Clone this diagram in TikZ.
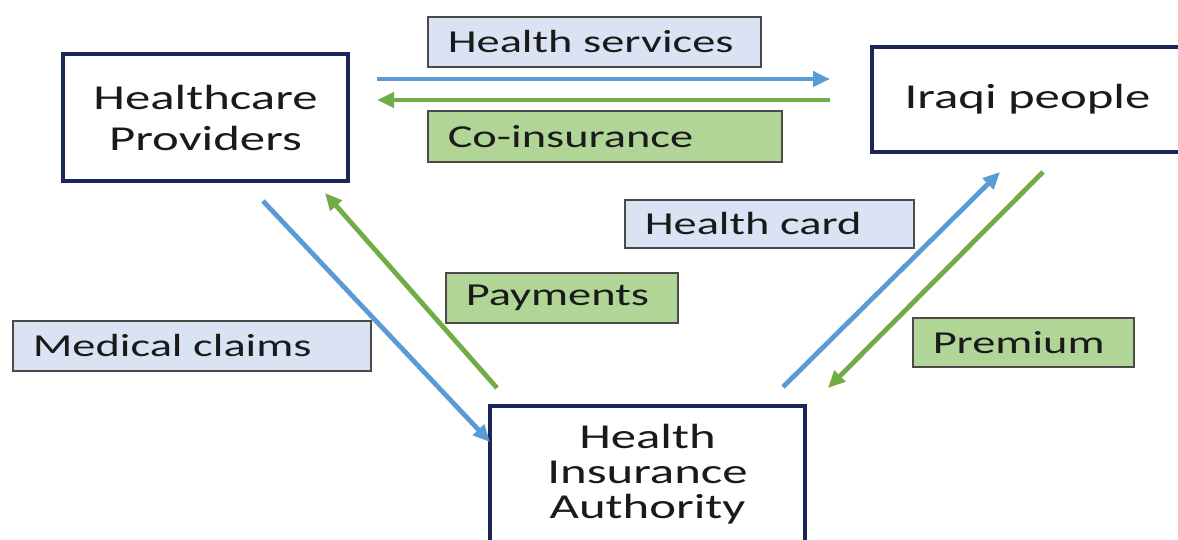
\documentclass[tikz,border=0pt]{standalone}
\usepackage{fontspec}
\setmainfont{Carlito}[FakeStretch=1.45]
\usetikzlibrary{positioning, arrows.meta}

\definecolor{boxnavy}{HTML}{1C2557}
\definecolor{flowblue}{HTML}{5B9BD5}
\definecolor{flowgreen}{HTML}{70AD47}
\definecolor{tagblue}{HTML}{DAE3F3}
\definecolor{taggreen}{HTML}{B1D597}
\definecolor{tagline}{HTML}{4A4A4A}
\definecolor{inktext}{HTML}{1A1A1A}

\begin{document}
\begin{tikzpicture}[
    % GLOBAL CFG
    x=1pt, y=-1pt,
    font=\fontsize{32}{36}\selectfont,
    text=inktext,
    >={Triangle[length=17pt, width=15pt]},
    % Styles
    party/.style={% For the three actors
        rectangle,
        draw=boxnavy,
        line width=4pt,
        fill=white,
        inner sep=0pt,
        align=center,
    },
    tag/.style={% For flow labels
        rectangle,
        draw=tagline,
        line width=1.5pt,
        anchor=north west,
        inner xsep=20pt,
        inner ysep=0pt,
        minimum height=50pt,
        text width=#1,
        align=left,
    },
    bluetag/.style={tag=#1, fill=tagblue},
    greentag/.style={tag=#1, fill=taggreen},
    FlowB/.style={% Blue flows
        ->,
        draw=flowblue,
        line width=4.8pt,
    },
    FlowG/.style={% Green flows
        ->,
        draw=flowgreen,
        line width=4.8pt,
    },
    ]
    \fill[white] (0,0) rectangle (1178,539);
    \useasboundingbox (0,0) rectangle (1178,539);
    \clip (0,0) rectangle (1178,539);

    % Draw actors
    \node[party, minimum width=285pt, minimum height=127pt,
        font=\fontsize{35}{41}\selectfont] (providers) at (205.5,117.5) {Healthcare\\Providers};
    \node[party, minimum width=311pt, minimum height=105pt,
        font=\fontsize{35}{40}\selectfont] (people) at (1027.5,99.5) {Iraqi people};
    \node[party, minimum width=315pt, minimum height=136pt,
        font=\fontsize{35}{35}\selectfont] (authority) at (647.5,474) {Health\\Insurance\\Authority};

    % Coordinates of flow ends
    \coordinate (svc1) at (377,79);
    \coordinate (svc2) at (830,79);
    \coordinate (coins1) at (830,100);
    \coordinate (coins2) at (377,100);
    \coordinate (claim1) at (263,201);
    \coordinate (claim2) at (490,442);
    \coordinate (pay1) at (497,388);
    \coordinate (pay2) at (325,193);
    \coordinate (card1) at (783,387);
    \coordinate (card2) at (1000,172);
    \coordinate (prem1) at (1043,172);
    \coordinate (prem2) at (828,388);

    % Flows
    \draw[FlowB] (svc1) -- (svc2);
    \draw[FlowG] (coins1) -- (coins2);
    \draw[FlowB] (claim1) -- (claim2);
    \draw[FlowG] (pay1) -- (pay2);
    \draw[FlowB] (card1) -- (card2);
    \draw[FlowG] (prem1) -- (prem2);

    % Labels
    \node[bluetag=293pt] (svctag) at (427,16) {Health services};
    \node[greentag=314pt, minimum height=51pt] (coinstag) at (427,110) {Co-insurance};
    \node[bluetag=249pt, minimum height=48pt] (cardtag) at (624,199) {Health card};
    \node[greentag=192pt] (paytag) at (445,272) {Payments};
    \node[bluetag=318pt] (claimtag) at (12,320) {Medical claims};
    \node[greentag=181pt, minimum height=49pt] (premtag) at (912,317) {Premium};

\end{tikzpicture}
\end{document}
